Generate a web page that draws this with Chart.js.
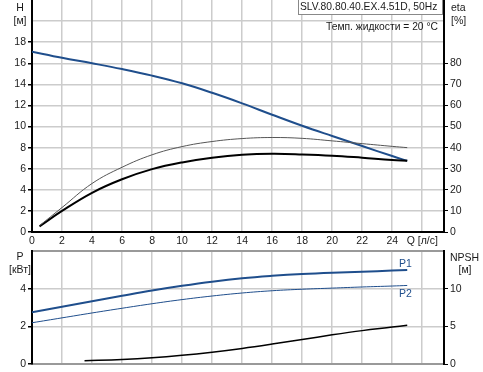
<!DOCTYPE html>
<html>
<head>
<meta charset="utf-8">
<script src="https://cdn.jsdelivr.net/npm/chart.js@4"></script>
<style>
  body { margin: 0; background: #fff; font-family: "Liberation Sans", Arial, sans-serif; font-size: 10.5px; color: #1a1a1a; }
  #wrap { position: relative; width: 483px; height: 372px; overflow: hidden; }
  canvas { position: absolute; left: 0; }
  .lbl { position: absolute; white-space: nowrap; line-height: 12px; }
  .c { text-align: center; }
</style>
</head>
<body>
<div id="wrap">
  <canvas id="top" width="483" height="250" style="top:0"></canvas>
  <canvas id="bot" width="483" height="123" style="top:249px"></canvas>

  <div class="lbl c" style="left:10px; top:1px; width:20px">H</div>
  <div class="lbl c" style="left:8px; top:14px; width:24px">[м]</div>
  <div class="lbl" style="left:451px; top:1px">eta</div>
  <div class="lbl" style="left:451px; top:14px">[%]</div>
  <div class="lbl" style="left:298px; top:-2px; width:142px; height:15px; border:1px solid #888; background:#fff; padding-left:1px; line-height:16px; font-size:10.3px">SLV.80.80.40.EX.4.51D, 50Hz</div>
  <div class="lbl" style="right:45px; top:21px; font-size:10.3px">Темп. жидкости = 20 °C</div>

  <div class="lbl c" style="left:10px; top:250px; width:20px">P</div>
  <div class="lbl c" style="left:4px; top:263px; width:32px">[кВт]</div>
  <div class="lbl" style="left:450px; top:251px">NPSH</div>
  <div class="lbl c" style="left:453px; top:263px; width:24px">[м]</div>
  <div class="lbl" style="left:399px; top:257px; color:#1f4e8c">P1</div>
  <div class="lbl" style="left:399px; top:287px; color:#1f4e8c">P2</div>
</div>
<script>
// Q [л/с]
const qH = [0, 2, 4, 6, 8, 10, 12, 14, 16, 18, 20, 22, 24, 25];
const hVals = [17.1, 16.52, 16.0, 15.45, 14.83, 14.1, 13.2, 12.2, 11.12, 10.07, 9.1, 8.15, 7.2, 6.75];

const qEta = [0.5, 2, 4, 6, 8, 10, 12, 14, 16, 18, 20, 22, 24, 25];
const etaVals = [2.7, 10, 18.6, 25, 29.8, 33, 35.2, 36.6, 37.1, 36.8, 36.2, 35.2, 34.1, 33.8];
const etaThinVals = [3, 11.6, 23, 30.7, 36.6, 40.5, 42.9, 44.3, 44.8, 44.4, 43.2, 41.9, 40.6, 40];

const qP = [0, 2, 4, 6, 8, 10, 12, 14, 16, 18, 20, 22, 24, 25];
const p1Vals = [2.75, 3.04, 3.33, 3.62, 3.9, 4.15, 4.37, 4.55, 4.68, 4.78, 4.85, 4.9, 4.96, 4.99];
const p2Vals = [2.19, 2.45, 2.71, 2.96, 3.2, 3.42, 3.61, 3.77, 3.89, 3.97, 4.03, 4.09, 4.14, 4.17];

const qNpsh = [3.5, 6, 8, 10, 12, 14, 16, 18, 20, 22, 24, 25];
const npshVals = [0.44, 0.6, 0.82, 1.15, 1.57, 2.07, 2.64, 3.25, 3.87, 4.43, 4.9, 5.15];

const xTicks = [0, 2, 4, 6, 8, 10, 12, 14, 16, 18, 20, 22, 24, 26];
const hTicks = [0, 2, 4, 6, 8, 10, 12, 14, 16, 18, 20];
const etaTicks = [0, 10, 20, 30, 40, 50, 60, 70, 80];
const pTicks = [0, 2, 4, 6];
const npshTicks = [0, 5, 10];

Chart.defaults.font.family = "'Liberation Sans', Arial, sans-serif";
Chart.defaults.font.size = 10.5;
Chart.defaults.color = "#1a1a1a";

const BLUE = "#1f4e8c";
const GRID = "#cccccc";
const NONE = "rgba(0,0,0,0)";
const pts = (xs, ys) => xs.map((x, i) => ({ x: x, y: ys[i] }));
const setTicks = list => s => { s.ticks = list.map(v => ({ value: v })); };
const fixW = w => s => { s.width = w; s.paddingTop = 0; s.paddingBottom = 0; };
const fixH = h => s => { s.height = h; s.paddingLeft = 0; s.paddingRight = 0; };

const line = (data, color, width, axis) => ({
  data: data, borderColor: color, borderWidth: width, yAxisID: axis,
  pointRadius: 0, tension: 0.4, fill: false
});

new Chart(document.getElementById("top"), {
  type: "line",
  data: {
    datasets: [
      line(pts(qEta, etaThinVals), "#555", 1, "eta"),
      line(pts(qEta, etaVals), "#000", 2, "eta"),
      line(pts(qH, hVals), BLUE, 2, "h")
    ]
  },
  options: {
    responsive: false, animation: false, devicePixelRatio: 1,
    layout: { padding: 0 },
    plugins: { legend: { display: false }, tooltip: { enabled: false } },
    scales: {
      x: {
        type: "linear", min: 0, max: 27.45,
        afterBuildTicks: setTicks(xTicks), afterFit: fixH(18),
        grid: { color: GRID, lineWidth: 1.5, drawTicks: false },
        border: { color: "#000", width: 2 },
        ticks: { padding: 3, maxRotation: 0, autoSkip: false, callback: v => v === 26 ? "Q [л/с]" : v }
      },
      h: {
        position: "left", min: 0, max: 22,
        afterBuildTicks: setTicks(hTicks), afterFit: fixW(32),
        grid: {
          color: GRID, lineWidth: 1.5, tickLength: 4,
          tickColor: c => c.tick && c.tick.value === 20 ? NONE : "#000"
        },
        border: { color: "#000", width: 2 },
        ticks: { padding: 2, autoSkip: false, callback: v => v === 20 ? "" : v }
      },
      eta: {
        position: "right", min: 0, max: 110,
        afterBuildTicks: setTicks(etaTicks), afterFit: fixW(39),
        grid: { drawOnChartArea: false, tickColor: "#000", tickLength: 4 },
        border: { color: "#000", width: 2 },
        ticks: { padding: 2, autoSkip: false }
      }
    }
  }
});

new Chart(document.getElementById("bot"), {
  type: "line",
  data: {
    datasets: [
      line(pts(qP, p2Vals), BLUE, 1, "p"),
      line(pts(qP, p1Vals), BLUE, 2, "p"),
      line(pts(qNpsh, npshVals), "#000", 1.5, "npsh")
    ]
  },
  options: {
    responsive: false, animation: false, devicePixelRatio: 1,
    layout: { padding: { top: 2 } },
    plugins: { legend: { display: false }, tooltip: { enabled: false } },
    scales: {
      x: {
        type: "linear", min: 0, max: 27.45,
        afterBuildTicks: setTicks(xTicks), afterFit: fixH(8),
        grid: { color: GRID, lineWidth: 1.5, drawTicks: false },
        border: { color: "#999", width: 2 },
        ticks: { display: false }
      },
      p: {
        position: "left", min: 0, max: 6,
        afterBuildTicks: setTicks(pTicks), afterFit: fixW(32),
        grid: {
          color: c => c.tick && c.tick.value === 6 ? "#999" : GRID,
          lineWidth: c => c.tick && c.tick.value === 6 ? 2 : 1.5,
          tickColor: c => c.tick && c.tick.value === 6 ? NONE : "#000",
          tickLength: 4
        },
        border: { color: "#000", width: 2 },
        ticks: { padding: 2, autoSkip: false, callback: v => v === 6 ? "" : v }
      },
      npsh: {
        position: "right", min: 0, max: 15,
        afterBuildTicks: setTicks(npshTicks), afterFit: fixW(39),
        grid: { drawOnChartArea: false, tickColor: "#000", tickLength: 4 },
        border: { color: "#000", width: 2 },
        ticks: { padding: 2, autoSkip: false }
      }
    }
  }
});
</script>
</body>
</html>
